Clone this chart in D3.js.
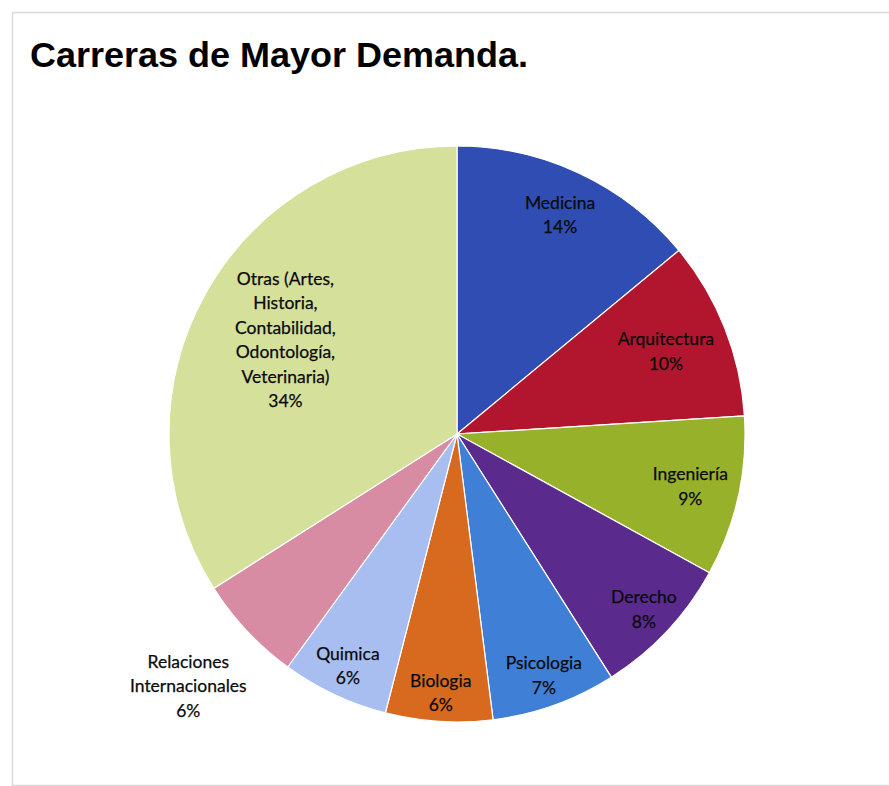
<!DOCTYPE html>
<html>
    <head>
        <meta charset="utf-8">
        <title>Carreras de Mayor Demanda.</title>
        <style>
            body { margin: 0; background: #fff; }
            .arc text {
              font: 17.5px Lato, "Open Sans", sans-serif;
              text-anchor: middle;
              fill: #0a0a0a;
              stroke: #0a0a0a;
              stroke-width: 0.25;
            }
            .arc path {
              stroke: #fff;
              stroke-width: 1.2;
            }
        </style>
    </head>
    <body>
        <svg width="889" height="786"></svg>

        <script src="https://d3js.org/d3.v7.min.js"></script>
        <script>
            // data (clockwise from 12 o'clock)
            var careers = ["Medicina", "Arquitectura", "Ingeniería", "Derecho", "Psicologia",
                           "Biologia", "Quimica", "Relaciones\nInternacionales",
                           "Otras (Artes,\nHistoria,\nContabilidad,\nOdontología,\nVeterinaria)"];
            var shares = [14, 10, 9, 8, 7, 6, 6, 6, 34];
            var colors = ["#2f4db3", "#b2162f", "#98b12b", "#5a2a8c", "#3f80d6",
                          "#d86a1f", "#a8bef0", "#d78ca4", "#d5e09b"];

            var data = careers.map(function(c, i) { return {career: c, share: shares[i]}; });

            var svg = d3.select("svg"),
                width = +svg.attr("width"),
                height = +svg.attr("height"),
                radius = 288,
                g = svg.append("g").attr("transform", "translate(457,434)");

            // chart frame
            svg.append("path")
              .attr("d", "M889,12.5H12.5V785.5H889")
              .attr("fill", "none")
              .attr("stroke", "#d9d9d9")
              .attr("stroke-width", 1.5);

            svg.append("text")
              .attr("transform", "translate(30,67) scale(1,1.07)")
              .attr("textLength", 498)
              .attr("lengthAdjust", "spacingAndGlyphs")
              .style("font", "bold 33px 'Liberation Sans', Arial, sans-serif")
              .style("fill", "#000")
              .text("Carreras de Mayor Demanda.");

            var color = d3.scaleOrdinal().domain(careers).range(colors);

            var pie = d3.pie()
                .sort(null)
                .value(function(d) { return d.share; });

            var path = d3.arc()
                .outerRadius(radius)
                .innerRadius(0);

            // Excel "best fit" puts labels at slightly different distances
            var labelPos = [0.84, 0.78, 0.83, 0.89, 0.89, 0.9, 0.89, 1.28, 0.68];

            var arc = g.selectAll(".arc")
              .data(pie(data))
              .enter()
              .append("g")
              .attr("class", "arc");

            arc.append("path")
              .attr("d", path)
              .attr("fill", function(d) { return color(d.data.career); });

            arc.append("text")
              .attr("transform", function(d, i) {
                  var r = radius * labelPos[i],
                      l = d3.arc().innerRadius(r).outerRadius(r);
                  return "translate(" + l.centroid(d) + ")";
              })
              .each(function(d) {
                  var lines = d.data.career.split("\n").concat([d.data.share + "%"]),
                      t = d3.select(this),
                      lh = 24.5,
                      y0 = -(lines.length - 1) * lh / 2;
                  lines.forEach(function(s, k) {
                      t.append("tspan")
                        .attr("x", 0)
                        .attr("y", y0 + k * lh)
                        .attr("dy", "0.35em")
                        .text(s);
                  });
              });
        </script>
    </body>
</html>
